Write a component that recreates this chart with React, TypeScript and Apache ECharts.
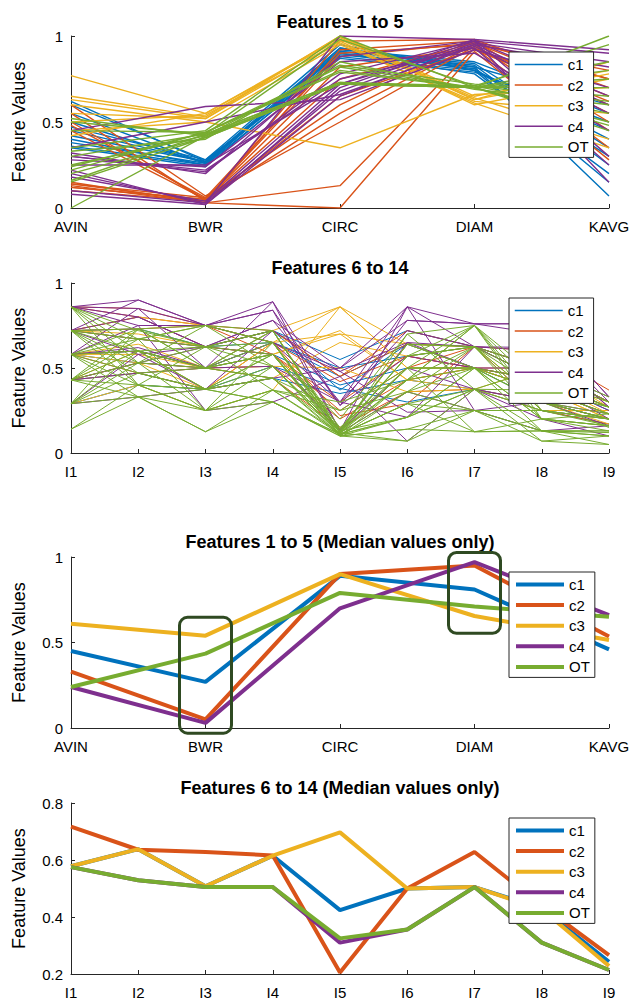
import React, { useEffect, useRef } from "react";
import * as echarts from "echarts";

// ---------- categories / labels ----------
const classNames = ["c1", "c2", "c3", "c4", "OT"];
const classColors = ["#0072BD", "#D95319", "#EDB120", "#7E2F8E", "#77AC30"];
const features1to5 = ["AVIN", "BWR", "CIRC", "DIAM", "KAVG"];
const features6to14 = ["I1", "I2", "I3", "I4", "I5", "I6", "I7", "I8", "I9"];
const panelTitles = [
  "Features 1 to 5",
  "Features 6 to 14",
  "Features 1 to 5 (Median values only)",
  "Features 6 to 14 (Median values only)",
];

// ---------- panel 1: all samples, features 1-5 ----------
const p1C1 = [
  [0.62, 0.27, 0.93, 0.82, 0.07],
  [0.6, 0.28, 0.95, 0.8, 0.15],
  [0.5, 0.26, 0.9, 0.78, 0.2],
  [0.45, 0.27, 0.91, 0.84, 0.35],
  [0.4, 0.25, 0.88, 0.8, 0.45],
  [0.38, 0.26, 0.92, 0.85, 0.55],
  [0.35, 0.24, 0.89, 0.82, 0.6],
  [0.47, 0.28, 0.87, 0.79, 0.5],
  [0.42, 0.27, 0.9, 0.81, 0.3],
  [0.55, 0.26, 0.91, 0.83, 0.25],
  [0.36, 0.25, 0.93, 0.8, 0.4],
];
const p1C2 = [
  [0.15, 0.03, 0.0, 0.91, 0.28],
  [0.13, 0.03, 0.13, 0.93, 0.35],
  [0.12, 0.05, 0.55, 0.95, 0.45],
  [0.14, 0.06, 0.6, 0.97, 0.5],
  [0.6, 0.07, 0.5, 0.94, 0.55],
  [0.5, 0.05, 0.88, 0.96, 0.65],
  [0.55, 0.04, 0.97, 0.98, 0.7],
  [0.48, 0.06, 0.9, 0.95, 0.8],
  [0.1, 0.04, 0.65, 0.92, 0.6],
  [0.45, 0.05, 0.75, 0.96, 0.75],
  [0.14, 0.04, 0.92, 0.97, 0.75],
  [0.12, 0.05, 0.82, 0.93, 0.62],
];
const p1C3 = [
  [0.77, 0.55, 0.98, 0.63, 0.85],
  [0.65, 0.53, 1.0, 0.65, 0.8],
  [0.63, 0.52, 0.97, 0.6, 0.75],
  [0.6, 0.5, 0.35, 0.66, 0.7],
  [0.45, 0.5, 0.95, 0.62, 0.55],
  [0.42, 0.55, 0.99, 0.64, 0.4],
  [0.5, 0.54, 0.96, 0.61, 0.35],
  [0.55, 0.52, 1.0, 0.63, 0.78],
];
const p1C4 = [
  [0.08, 0.02, 0.7, 0.97, 0.9],
  [0.2, 0.03, 0.68, 0.96, 0.85],
  [0.22, 0.02, 0.65, 0.95, 0.6],
  [0.25, 0.25, 0.72, 0.98, 0.3],
  [0.3, 0.22, 0.75, 0.93, 0.25],
  [0.32, 0.2, 0.88, 0.97, 0.15],
  [0.45, 0.59, 0.63, 0.92, 0.7],
  [0.35, 0.5, 0.66, 0.94, 0.55],
  [0.1, 0.03, 1.0, 0.98, 0.92],
  [0.28, 0.24, 0.85, 0.9, 0.45],
  [0.18, 0.04, 0.72, 0.95, 0.82],
  [0.3, 0.21, 0.78, 0.97, 0.65],
];
const p1OT = [
  [0.0, 0.42, 0.72, 0.7, 1.0],
  [0.15, 0.41, 0.72, 0.71, 0.95],
  [0.16, 0.43, 0.73, 0.7, 0.8],
  [0.22, 0.44, 0.8, 0.7, 0.75],
  [0.25, 0.42, 0.83, 0.72, 0.65],
  [0.33, 0.4, 0.85, 0.69, 0.6],
  [0.35, 0.45, 1.0, 0.7, 0.5],
  [0.5, 0.43, 0.98, 0.71, 0.55],
  [0.52, 0.42, 0.72, 0.7, 0.45],
  [0.24, 0.44, 0.79, 0.7, 0.7],
  [0.2, 0.41, 0.72, 0.7, 0.85],
  [0.3, 0.43, 0.73, 0.71, 0.62],
  [0.45, 0.44, 0.82, 0.7, 0.48],
];

// ---------- panel 2: all samples, features 6-14 ----------
const p2C1 = [
  [0.72, 0.67, 0.625, 0.72, 0.55, 0.72, 0.625, 0.5, 0.3],
  [0.58, 0.6, 0.5, 0.65, 0.45, 0.64, 0.5, 0.43, 0.25],
  [0.58, 0.53, 0.5, 0.58, 0.4, 0.5, 0.5, 0.37, 0.23],
  [0.43, 0.47, 0.375, 0.44, 0.35, 0.43, 0.375, 0.3, 0.2],
  [0.29, 0.4, 0.375, 0.51, 0.38, 0.3, 0.375, 0.25, 0.17],
  [0.72, 0.73, 0.625, 0.65, 0.5, 0.57, 0.625, 0.43, 0.27],
  [0.58, 0.6, 0.5, 0.72, 0.37, 0.64, 0.5, 0.3, 0.2],
];
const p2C2 = [
  [0.86, 0.85, 0.75, 0.72, 0.45, 0.64, 0.625, 0.6, 0.37],
  [0.72, 0.8, 0.75, 0.65, 0.42, 0.57, 0.5, 0.5, 0.3],
  [0.72, 0.67, 0.625, 0.58, 0.25, 0.5, 0.625, 0.43, 0.27],
  [0.58, 0.6, 0.5, 0.51, 0.2, 0.43, 0.5, 0.37, 0.23],
  [0.43, 0.53, 0.5, 0.44, 0.15, 0.36, 0.375, 0.3, 0.2],
  [0.58, 0.47, 0.375, 0.65, 0.22, 0.29, 0.625, 0.25, 0.17],
  [0.86, 0.8, 0.625, 0.72, 0.45, 0.72, 0.625, 0.5, 0.3],
  [0.72, 0.73, 0.75, 0.58, 0.3, 0.57, 0.5, 0.43, 0.27],
];
const p2C3 = [
  [0.58, 0.64, 0.5, 0.72, 0.86, 0.5, 0.5, 0.43, 0.23],
  [0.43, 0.6, 0.375, 0.65, 0.7, 0.64, 0.5, 0.37, 0.2],
  [0.72, 0.7, 0.625, 0.58, 0.72, 0.43, 0.375, 0.5, 0.27],
  [0.58, 0.53, 0.375, 0.44, 0.65, 0.57, 0.625, 0.3, 0.17],
  [0.43, 0.47, 0.5, 0.51, 0.5, 0.36, 0.375, 0.25, 0.25],
  [0.29, 0.4, 0.25, 0.37, 0.86, 0.5, 0.5, 0.43, 0.3],
  [0.72, 0.8, 0.75, 0.65, 0.86, 0.64, 0.625, 0.5, 0.3],
  [0.58, 0.58, 0.5, 0.58, 0.7, 0.43, 0.5, 0.37, 0.2],
];
const p2C4 = [
  [0.86, 0.9, 0.75, 0.89, 0.13, 0.86, 0.76, 0.76, 0.33],
  [0.86, 0.85, 0.75, 0.84, 0.28, 0.78, 0.76, 0.7, 0.3],
  [0.72, 0.8, 0.625, 0.78, 0.3, 0.72, 0.625, 0.62, 0.27],
  [0.58, 0.62, 0.5, 0.65, 0.48, 0.65, 0.5, 0.5, 0.33],
  [0.29, 0.33, 0.375, 0.44, 0.5, 0.86, 0.25, 0.25, 0.2],
  [0.58, 0.75, 0.25, 0.3, 0.45, 0.07, 0.375, 0.3, 0.23],
  [0.72, 0.58, 0.625, 0.72, 0.12, 0.36, 0.25, 0.13, 0.16],
  [0.43, 0.47, 0.5, 0.51, 0.3, 0.21, 0.625, 0.43, 0.25],
  [0.86, 0.8, 0.625, 0.78, 0.5, 0.78, 0.76, 0.76, 0.33],
  [0.72, 0.9, 0.75, 0.84, 0.13, 0.65, 0.625, 0.6, 0.27],
  [0.58, 0.85, 0.5, 0.89, 0.28, 0.57, 0.5, 0.43, 0.2],
  [0.29, 0.58, 0.375, 0.72, 0.48, 0.24, 0.25, 0.3, 0.16],
  [0.86, 0.75, 0.75, 0.65, 0.3, 0.86, 0.625, 0.5, 0.3],
  [0.43, 0.53, 0.625, 0.58, 0.13, 0.5, 0.375, 0.2, 0.1],
];
const p2OT = [
  [0.86, 0.72, 0.625, 0.72, 0.12, 0.43, 0.75, 0.25, 0.2],
  [0.72, 0.6, 0.5, 0.58, 0.1, 0.36, 0.625, 0.2, 0.16],
  [0.58, 0.47, 0.375, 0.44, 0.11, 0.21, 0.5, 0.13, 0.12],
  [0.43, 0.4, 0.25, 0.37, 0.12, 0.07, 0.375, 0.07, 0.1],
  [0.29, 0.33, 0.125, 0.3, 0.1, 0.14, 0.25, 0.13, 0.05],
  [0.14, 0.33, 0.25, 0.3, 0.11, 0.29, 0.125, 0.13, 0.13],
  [0.86, 0.67, 0.75, 0.65, 0.12, 0.5, 0.75, 0.3, 0.23],
  [0.72, 0.53, 0.625, 0.51, 0.13, 0.57, 0.625, 0.37, 0.27],
  [0.58, 0.73, 0.5, 0.72, 0.14, 0.64, 0.5, 0.43, 0.3],
  [0.43, 0.6, 0.375, 0.58, 0.2, 0.7, 0.375, 0.5, 0.33],
  [0.29, 0.47, 0.5, 0.44, 0.25, 0.36, 0.25, 0.25, 0.2],
  [0.58, 0.4, 0.625, 0.37, 0.3, 0.43, 0.625, 0.3, 0.15],
  [0.43, 0.53, 0.75, 0.51, 0.1, 0.21, 0.5, 0.2, 0.23],
  [0.72, 0.67, 0.25, 0.65, 0.15, 0.5, 0.125, 0.13, 0.1],
  [0.86, 0.4, 0.375, 0.3, 0.11, 0.29, 0.375, 0.37, 0.27],
  [0.29, 0.6, 0.625, 0.72, 0.12, 0.57, 0.75, 0.2, 0.16],
  [0.86, 0.6, 0.5, 0.65, 0.13, 0.64, 0.625, 0.43, 0.27],
  [0.72, 0.47, 0.375, 0.58, 0.11, 0.5, 0.5, 0.3, 0.2],
  [0.58, 0.67, 0.75, 0.72, 0.12, 0.57, 0.625, 0.25, 0.16],
  [0.43, 0.73, 0.625, 0.65, 0.1, 0.43, 0.75, 0.37, 0.23],
  [0.29, 0.53, 0.5, 0.58, 0.12, 0.36, 0.5, 0.2, 0.13],
  [0.14, 0.4, 0.375, 0.44, 0.13, 0.21, 0.375, 0.13, 0.1],
  [0.86, 0.53, 0.25, 0.51, 0.11, 0.29, 0.25, 0.07, 0.05],
  [0.72, 0.73, 0.5, 0.44, 0.1, 0.14, 0.125, 0.2, 0.16],
  [0.58, 0.33, 0.125, 0.37, 0.25, 0.5, 0.5, 0.3, 0.2],
  [0.43, 0.67, 0.625, 0.58, 0.14, 0.64, 0.625, 0.5, 0.3],
  [0.29, 0.73, 0.75, 0.65, 0.12, 0.7, 0.75, 0.43, 0.27],
  [0.58, 0.6, 0.375, 0.3, 0.1, 0.07, 0.25, 0.13, 0.13],
  [0.72, 0.4, 0.25, 0.37, 0.11, 0.21, 0.375, 0.25, 0.2],
  [0.43, 0.33, 0.375, 0.51, 0.13, 0.43, 0.5, 0.37, 0.23],
];

// ---------- panel 3: medians, features 1-5 ----------
const medC1a = [0.45, 0.27, 0.89, 0.81, 0.46];
const medC2a = [0.33, 0.05, 0.9, 0.95, 0.535];
const medC3a = [0.61, 0.54, 0.9, 0.655, 0.515];
const medC4a = [0.24, 0.03, 0.7, 0.97, 0.66];
const medOTa = [0.24, 0.435, 0.79, 0.71, 0.65];

// ---------- panel 4: medians, features 6-14 ----------
const medC1b = [0.578, 0.638, 0.508, 0.615, 0.424, 0.5, 0.505, 0.43, 0.243];
const medC2b = [0.717, 0.636, 0.628, 0.616, 0.205, 0.5, 0.628, 0.44, 0.266];
const medC3b = [0.578, 0.638, 0.508, 0.615, 0.697, 0.5, 0.505, 0.427, 0.228];
const medC4b = [0.575, 0.529, 0.505, 0.505, 0.31, 0.356, 0.505, 0.31, 0.214];
const medOTb = [0.575, 0.529, 0.505, 0.505, 0.325, 0.356, 0.505, 0.31, 0.214];

// highlighted regions in panel 3 (category, value range)
const highlightBoxes = [
  { category: "BWR", lo: -0.03, hi: 0.647 },
  { category: "DIAM", lo: 0.554, hi: 1.026 },
];

const FONT = "'Liberation Sans', Arial, Helvetica, sans-serif";
const AXIS_COLOR = "#262626";

const panel1 = [p1C1, p1C2, p1C3, p1C4, p1OT];
const panel2 = [p2C1, p2C2, p2C3, p2C4, p2OT];
const panel3 = [medC1a, medC2a, medC3a, medC4a, medOTa];
const panel4 = [medC1b, medC2b, medC3b, medC4b, medOTb];

const gridLayout = [
  { top: 36, height: 172 },
  { top: 283, height: 170 },
  { top: 557, height: 171 },
  { top: 803, height: 171 },
];
const titleTops = [13, 259, 533, 779];
const legendTops = [52, 298, 572, 818];

function buildOption() {
  const grid = gridLayout.map((g) => ({ left: 71, right: 24, top: g.top, height: g.height }));
  const xAxis = [features1to5, features6to14, features1to5, features6to14].map((cats, i) => ({
    type: "category",
    gridIndex: i,
    data: cats,
    boundaryGap: false,
    axisLine: { lineStyle: { color: AXIS_COLOR, width: 1 } },
    axisTick: { inside: true, length: 4, lineStyle: { color: AXIS_COLOR } },
    axisLabel: { color: "#000", fontSize: 15, fontFamily: FONT, margin: 11 },
    splitLine: { show: false },
  }));
  const yAxis = [0, 1, 2, 3].map((i) => ({
    type: "value",
    gridIndex: i,
    min: i === 3 ? 0.2 : 0,
    max: i === 3 ? 0.8 : 1,
    interval: i === 3 ? 0.2 : 0.5,
    name: "Feature Values",
    nameLocation: "middle",
    nameGap: 43,
    nameTextStyle: { color: "#000", fontSize: 18, fontFamily: FONT },
    axisLine: { show: true, lineStyle: { color: AXIS_COLOR, width: 1 } },
    axisTick: { show: true, inside: true, length: 4, lineStyle: { color: AXIS_COLOR } },
    axisLabel: { color: "#000", fontSize: 15, fontFamily: FONT, margin: 8 },
    splitLine: { show: false },
  }));

  const series: any[] = [];
  const addLines = (gi: number, lines: number[][], ci: number, width: number) => {
    lines.forEach((vals) => {
      series.push({
        type: "line",
        name: classNames[ci],
        xAxisIndex: gi,
        yAxisIndex: gi,
        data: vals,
        symbol: "none",
        silent: true,
        lineStyle: { color: classColors[ci], width },
        itemStyle: { color: classColors[ci] },
        emphasis: { disabled: true },
      });
    });
  };
  panel1.forEach((lines, ci) => addLines(0, lines, ci, 1.4));
  panel2.forEach((lines, ci) => addLines(1, lines, ci, 1));
  panel3.forEach((vals, ci) => addLines(2, [vals], ci, 4));
  panel4.forEach((vals, ci) => addLines(3, [vals], ci, 4));

  const title = panelTitles.map((t, i) => ({
    text: t,
    left: 340,
    top: titleTops[i],
    textAlign: "center",
    padding: 0,
    textStyle: { color: "#000", fontSize: 18, fontWeight: "bold", fontFamily: FONT },
  }));

  const legend = legendTops.map((top, i) => ({
    data: classNames,
    orient: "vertical",
    left: 509,
    top,
    itemWidth: 48,
    itemHeight: 14,
    itemGap: 5.6,
    padding: [5, 5, 3, 5],
    backgroundColor: "#fff",
    borderColor: AXIS_COLOR,
    borderWidth: 1,
    borderRadius: 0,
    selectedMode: false,
    textStyle: { color: "#000", fontSize: 15, fontFamily: FONT },
    lineStyle: { width: i >= 2 ? 4 : 1.5 },
    itemStyle: { opacity: 0 },
  }));

  return {
    animation: false,
    backgroundColor: "#fff",
    title,
    legend,
    grid,
    xAxis,
    yAxis,
    series,
  };
}

export default function App() {
  const ref = useRef<HTMLDivElement>(null);
  useEffect(() => {
    if (!ref.current) return;
    const chart = echarts.init(ref.current, undefined, { renderer: "svg" });
    chart.setOption(buildOption() as any);
    const halfW = 26;
    const graphic = highlightBoxes.map((b) => {
      const ci = features1to5.indexOf(b.category);
      const pTop = chart.convertToPixel({ gridIndex: 2 } as any, [ci, b.hi]) as number[];
      const pBot = chart.convertToPixel({ gridIndex: 2 } as any, [ci, b.lo]) as number[];
      return {
        type: "rect",
        z: 50,
        silent: true,
        shape: { x: pTop[0] - halfW, y: pTop[1], width: halfW * 2, height: pBot[1] - pTop[1], r: 8 },
        style: { fill: "none", stroke: "#2f4a22", lineWidth: 3 },
      };
    });
    chart.setOption({ graphic } as any);
    return () => chart.dispose();
  }, []);
  return (
    <div
      ref={ref}
      style={{ position: "absolute", left: 0, top: 0, width: 633, height: 1001 }}
    />
  );
}
